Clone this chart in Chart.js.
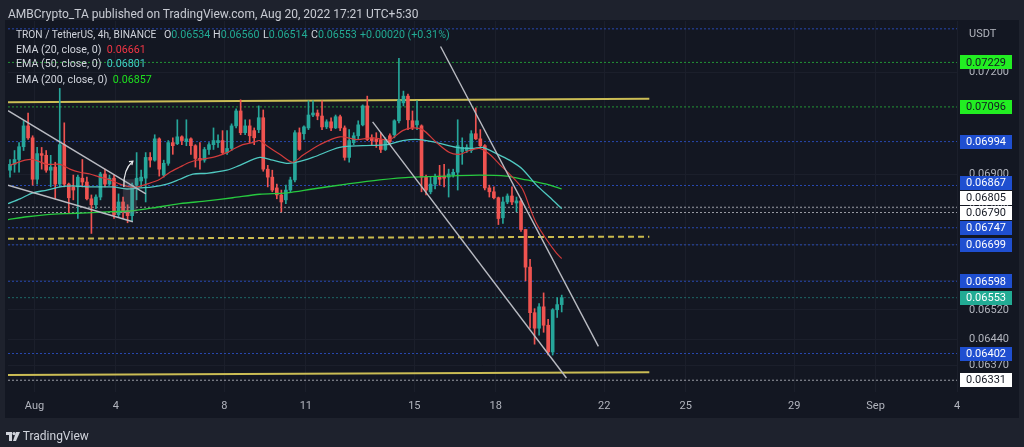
<!DOCTYPE html>
<html>
<head>
<meta charset="utf-8">
<script src="https://cdn.jsdelivr.net/npm/chart.js@4.4.0/dist/chart.umd.min.js"></script>
<style>
html,body{margin:0;padding:0;background:#1e222d;width:1024px;height:447px;overflow:hidden;font-family:Roboto,"Liberation Sans",sans-serif;}
#wrap{position:relative;width:1024px;height:447px;}
canvas{position:absolute;left:0;top:0;}
.t{position:absolute;white-space:nowrap;font-size:10.7px;line-height:14px;color:#d1d4dc;z-index:2;}
.teal{color:#22ab94;}
</style>
</head>
<body>
<div id="wrap">
<canvas id="c" width="1024" height="447"></canvas>
<div class="t" style="left:8px;top:7px;color:#c9ccd4;font-size:12px;">AMBCrypto_TA published on TradingView.com, Aug 20, 2022 17:21 UTC+5:30</div>
<div class="t" style="left:16px;top:28px;font-size:10.2px;">TRON / TetherUS, 4h, BINANCE</div>
<div class="t" style="left:164px;top:28px;">O<span class="teal">0.06534</span></div>
<div class="t" style="left:213px;top:28px;">H<span class="teal">0.06560</span></div>
<div class="t" style="left:263px;top:28px;">L<span class="teal">0.06514</span></div>
<div class="t" style="left:311px;top:28px;">C<span class="teal">0.06553</span></div>
<div class="t teal" style="left:360px;top:28px;">+0.00020 (+0.31%)</div>
<div class="t" style="left:16px;top:43px;">EMA (20, close, 0)&nbsp; <span style="color:#f23645">0.06661</span></div>
<div class="t" style="left:16px;top:57px;">EMA (50, close, 0)&nbsp; <span style="color:#3fd0c6">0.06801</span></div>
<div class="t" style="left:16px;top:73px;">EMA (200, close, 0)&nbsp; <span style="color:#1fe01f">0.06857</span></div>
<div class="t" style="left:969px;top:27px;color:#b2b5be;font-size:11px;">USDT</div>
<div class="t" style="left:6px;top:429px;color:#d1d4dc;font-size:12px;">
<svg width="14" height="9" viewBox="0 0 14 9" style="vertical-align:-1px"><path d="M0 0h6v9h-3V3H0z" fill="#d1d4dc"/><circle cx="8" cy="1.6" r="1.6" fill="#d1d4dc"/><path d="M10 0h4l-4 9h-3z" fill="#d1d4dc"/></svg> TradingView</div>
</div>
<script>
// ---------------- DATA ----------------
const opens = [0.06911,0.06928,0.06942,0.06979,0.07040,0.07005,0.06885,0.06959,0.06954,0.06911,
0.06920,0.06871,0.06985,0.06871,0.06863,0.06863,0.06888,0.06877,0.06829,0.06812,
0.06834,0.06900,0.06871,0.06888,0.06784,0.06820,0.06795,0.06781,0.06868,0.06880,
0.06888,0.06948,0.06940,0.07002,0.06897,0.06931,0.06991,0.06988,0.07008,0.06994,
0.07002,0.06982,0.06945,0.06940,0.06971,0.06985,0.06991,0.06997,0.06962,0.06974,
0.07040,0.07084,0.07020,0.07040,0.07026,0.07029,0.07064,0.06914,0.06891,0.06860,
0.06840,0.06826,0.06854,0.06883,0.07020,0.07017,0.07034,0.07072,0.07078,0.07069,
0.07037,0.07052,0.07034,0.07067,0.07034,0.06948,0.06991,0.07011,0.07043,0.07099,
0.07005,0.07002,0.07000,0.06971,0.07011,0.07014,0.07055,0.07108,0.07128,0.07055,
0.07043,0.07040,0.06891,0.06849,0.06871,0.06894,0.06894,0.06891,0.06897,0.06905,
0.06965,0.06968,0.06968,0.07017,0.07002,0.06982,0.06860,0.06849,0.06832,0.06775,
0.06820,0.06837,0.06817,0.06823,0.06742,0.06637,0.06512,0.06470,0.06528,0.06478,
0.06406,0.06520,0.06534];
const highs = [0.06942,0.06968,0.06991,0.07055,0.07078,0.07011,0.06977,0.06977,0.06968,0.06954,
0.06934,0.07151,0.07049,0.06874,0.06897,0.06897,0.06942,0.06891,0.06840,0.06840,
0.06905,0.06914,0.06897,0.06897,0.06843,0.06834,0.06812,0.06874,0.06962,0.06911,
0.06962,0.06962,0.07014,0.07005,0.06940,0.06997,0.07005,0.07058,0.07011,0.07058,
0.07005,0.06985,0.06991,0.06977,0.06991,0.07034,0.07014,0.07026,0.07026,0.07046,
0.07090,0.07117,0.07058,0.07058,0.07034,0.07099,0.07087,0.06925,0.06911,0.06871,
0.06854,0.06868,0.06891,0.07026,0.07034,0.07040,0.07114,0.07114,0.07087,0.07114,
0.07058,0.07064,0.07072,0.07072,0.07040,0.07029,0.07020,0.07055,0.07102,0.07128,
0.07014,0.07020,0.07020,0.07005,0.07017,0.07058,0.07241,0.07143,0.07134,0.07084,
0.07114,0.07043,0.06897,0.06891,0.06900,0.06925,0.06928,0.06914,0.06914,0.07058,
0.07005,0.06985,0.07026,0.07093,0.07029,0.06985,0.06868,0.06863,0.06834,0.06834,
0.06843,0.06863,0.06834,0.06829,0.06742,0.06659,0.06523,0.06537,0.06566,0.06494,
0.06523,0.06553,0.06560];
const lows = [0.06891,0.06905,0.06905,0.06968,0.07000,0.06868,0.06871,0.06914,0.06905,0.06863,
0.06829,0.06863,0.06863,0.06787,0.06826,0.06773,0.06863,0.06826,0.06731,0.06801,
0.06826,0.06863,0.06868,0.06773,0.06778,0.06773,0.06761,0.06764,0.06826,0.06863,
0.06820,0.06920,0.06937,0.06894,0.06891,0.06925,0.06957,0.06985,0.06985,0.06982,
0.06957,0.06920,0.06914,0.06934,0.06957,0.06971,0.06977,0.06957,0.06957,0.06968,
0.07034,0.07014,0.07014,0.06991,0.06985,0.07020,0.06908,0.06863,0.06849,0.06829,
0.06792,0.06815,0.06849,0.06877,0.06968,0.07000,0.07029,0.07067,0.07058,0.07029,
0.07032,0.07026,0.07032,0.07026,0.06940,0.06934,0.06985,0.07000,0.07040,0.06997,
0.06985,0.06977,0.06962,0.06968,0.06988,0.07005,0.07049,0.07099,0.07029,0.07029,
0.07029,0.06849,0.06840,0.06843,0.06857,0.06868,0.06863,0.06834,0.06891,0.06854,
0.06928,0.06962,0.06962,0.07000,0.06977,0.06854,0.06834,0.06829,0.06756,0.06759,
0.06815,0.06812,0.06792,0.06737,0.06599,0.06470,0.06427,0.06451,0.06459,0.06398,
0.06398,0.06499,0.06514];
const closes = [0.06928,0.06942,0.06979,0.07040,0.07005,0.06885,0.06959,0.06954,0.06911,0.06920,
0.06871,0.06985,0.06871,0.06832,0.06854,0.06891,0.06877,0.06829,0.06812,0.06834,
0.06900,0.06871,0.06888,0.06784,0.06820,0.06792,0.06781,0.06868,0.06888,0.06891,
0.06948,0.06940,0.07002,0.06914,0.06931,0.06991,0.06982,0.07008,0.06997,0.07002,
0.06982,0.06945,0.06940,0.06971,0.06985,0.06997,0.06997,0.06962,0.06974,0.07040,
0.07084,0.07020,0.07040,0.07011,0.07005,0.07064,0.06914,0.06891,0.06854,0.06840,
0.06820,0.06854,0.06883,0.07020,0.06971,0.07037,0.07072,0.07078,0.07069,0.07037,
0.07052,0.07034,0.07067,0.07034,0.06948,0.06997,0.07011,0.07043,0.07099,0.07000,
0.06997,0.06994,0.06971,0.07000,0.06994,0.07055,0.07117,0.07128,0.07058,0.07034,
0.07055,0.06891,0.06854,0.06871,0.06891,0.06885,0.06888,0.06900,0.06905,0.06982,
0.06977,0.06977,0.07017,0.07002,0.06982,0.06860,0.06849,0.06832,0.06773,0.06820,
0.06837,0.06820,0.06823,0.06742,0.06637,0.06512,0.06470,0.06528,0.06478,0.06406,
0.06520,0.06534,0.06553];

// EMA readings (day of August, price)
const ema20Days = [0.098,0.650,0.945,1.460,1.939,2.307,2.675,3.043,3.412,3.780,4.148,4.516,4.774,5.142,5.621,5.989,6.357,6.725,7.094,7.572,8.088,8.309,8.677,9.045,9.303,9.561,10.039,10.518,10.886,11.512,12.248,12.874,13.463,14.089,14.568,14.936,15.304,15.820,16.298,16.667,17.035,17.403,17.771,18.139,18.618,18.986,19.244,19.502,19.870,20.238,20.431];
const ema20Values = [0.06925,0.06940,0.06942,0.06928,0.06928,0.06914,0.06905,0.06900,0.06891,0.06883,0.06871,0.06863,0.06863,0.06871,0.06885,0.06905,0.06920,0.06934,0.06942,0.06948,0.06962,0.06971,0.06985,0.06991,0.06997,0.06982,0.06957,0.06934,0.06954,0.06985,0.07008,0.07000,0.07005,0.07000,0.07026,0.07034,0.07029,0.06991,0.06962,0.06957,0.06968,0.06974,0.06957,0.06928,0.06891,0.06857,0.06806,0.06759,0.06714,0.06676,0.06661];
const ema50Days = [0.024,0.466,0.945,1.460,1.939,2.418,2.933,3.412,3.890,4.406,4.884,5.363,5.879,6.357,6.836,7.351,8.088,8.566,9.303,9.782,10.297,10.665,11.254,12.248,13.095,13.979,14.568,15.194,15.820,16.556,17.145,17.513,18.029,18.507,18.986,19.502,19.981,20.431];
const ema50Values = [0.06815,0.06829,0.06846,0.06854,0.06863,0.06866,0.06863,0.06863,0.06863,0.06857,0.06860,0.06863,0.06871,0.06885,0.06900,0.06902,0.06911,0.06925,0.06948,0.06940,0.06931,0.06934,0.06948,0.06977,0.06982,0.06985,0.06997,0.07000,0.06991,0.06977,0.06974,0.06977,0.06959,0.06940,0.06914,0.06868,0.06834,0.06801];
const ema200Days = [0.024,0.724,1.460,2.197,2.933,3.669,4.627,5.363,6.357,7.351,8.309,9.303,10.297,11.254,12.506,13.721,14.936,16.188,17.403,18.397,19.133,19.870,20.431];
const ema200Values = [0.06770,0.06778,0.06784,0.06787,0.06789,0.06792,0.06795,0.06803,0.06815,0.06823,0.06832,0.06842,0.06846,0.06857,0.06871,0.06883,0.06891,0.06894,0.06897,0.06894,0.06883,0.06871,0.06857];

// Horizontal levels
const greenLevels = [0.07229, 0.07096];
const blueLevels = [0.06994, 0.06867, 0.06747, 0.06699, 0.06598, 0.06402];
const topBlueLevel = 0.07331;
const whiteLevels = [0.06805, 0.06790, 0.06331];
const lastPrice = 0.06553;

// Drawings: [startDay, endDay], [startPrice, endPrice]
const wedgeUpperDays = [0.024, 5.105],  wedgeUpperPrices = [0.07085, 0.06843];
const wedgeLowerDays = [0.024, 4.627],  wedgeLowerPrices = [0.06868, 0.06764];
const channelUpperDays = [15.967, 21.784], channelUpperPrices = [0.07277, 0.06421];
const channelLowerDays = [13.463, 20.606], channelLowerPrices = [0.07052, 0.06337];
const yellowDays = [0.024, 23.66];
const yellowTopPrices = [0.07110, 0.07120];
const yellowBottomPrices = [0.06345, 0.06352];
const yellowDashPrices = [0.06716, 0.06722];
const boxDays = [4.258, 4.773], boxPrices = [0.06885, 0.06787];
const arrowDays = [4.295, 4.277, 4.369, 4.627], arrowPrices = [0.06863, 0.06897, 0.06920, 0.06937];

// Axis ticks
const tickDays = [1, 4, 8, 11, 15, 18, 22, 25, 29, 32, 35];
const tickLabels = ['Aug', '4', '8', '11', '15', '18', '22', '25', '29', 'Sep', '4'];
const priceTicks = [0.07200, 0.06900, 0.06800, 0.06700, 0.06600, 0.06520, 0.06440, 0.06370];

const firstCandleDay = 0.098;      // Jul 31, first 4h candle
const candleStepDays = 4 / 24;
const X_MIN = 0.024, X_MAX = 35.0, Y_MIN = 0.06313, Y_MAX = 0.07355;

// ---------------- CHART ----------------
const UP = '#26a69a', DOWN = '#ef5350';
const candleDays = opens.map((_, i) => firstCandleDay + i * candleStepDays);
const isUp = i => closes[i] >= opens[i];

function seg(days, prices) { return days.map((d, i) => ({x: d, y: prices[i]})); }
function lineDs(data, color, width, dash, order, extra) {
  return Object.assign({type: 'line', data, borderColor: color, borderWidth: width, borderDash: dash || [],
    pointRadius: 0, fill: false, tension: 0, order}, extra || {});
}

const datasets = [];
greenLevels.forEach(v => datasets.push(lineDs(seg([X_MIN, X_MAX], [v, v]), 'rgba(40,190,60,0.75)', 1, [2, 2], 40)));
blueLevels.concat([topBlueLevel]).forEach(v => datasets.push(lineDs(seg([X_MIN, X_MAX], [v, v]), 'rgba(45,85,210,0.8)', 1, [2, 2], 40)));
whiteLevels.forEach(v => datasets.push(lineDs(seg([X_MIN, X_MAX], [v, v]), 'rgba(200,202,210,0.75)', 1, [2, 2], 40)));
datasets.push(lineDs(seg([X_MIN, X_MAX], [lastPrice, lastPrice]), 'rgba(38,166,154,0.55)', 1, [2, 2], 40));
datasets.push(lineDs(seg(yellowDays, yellowTopPrices), '#cbbd55', 2, [], 30));
datasets.push(lineDs(seg(yellowDays, yellowBottomPrices), '#cbbd55', 2, [], 30));
datasets.push(lineDs(seg(yellowDays, yellowDashPrices), '#c9b94c', 2, [6, 4], 30));
// candles
datasets.push({type: 'bar', data: candleDays.map((d, i) => ({x: d, y: [lows[i], highs[i]]})),
  backgroundColor: ctx => isUp(ctx.dataIndex) ? UP : DOWN, barThickness: 1, grouped: false, order: 21, borderWidth: 0});
datasets.push({type: 'bar', data: candleDays.map((d, i) => ({x: d, y: [opens[i], closes[i]]})),
  backgroundColor: ctx => isUp(ctx.dataIndex) ? UP : DOWN, barThickness: 3, grouped: false, order: 20, borderWidth: 0, minBarLength: 1});
// EMAs
datasets.push(lineDs(seg(ema200Days, ema200Values), '#27c93f', 1.3, [], 12, {tension: 0.3}));
datasets.push(lineDs(seg(ema50Days, ema50Values), '#4fc9c1', 1.3, [], 11, {tension: 0.3}));
datasets.push(lineDs(seg(ema20Days, ema20Values), '#d23b3b', 1.2, [], 10, {tension: 0.3}));
// trend lines
[[wedgeUpperDays, wedgeUpperPrices], [wedgeLowerDays, wedgeLowerPrices],
 [channelUpperDays, channelUpperPrices], [channelLowerDays, channelLowerPrices]]
  .forEach(([d, p]) => datasets.push(lineDs(seg(d, p), '#b9bbc2', 1.4, [], 5)));

const bgPlugin = {
  id: 'bg',
  beforeDraw(chart) {
    const c = chart.ctx;
    c.save();
    c.fillStyle = '#131722';
    c.fillRect(5, 20, 1014, 398);
    c.restore();
  },
  afterDatasetsDraw(chart) {
    const c = chart.ctx, xs = chart.scales.x, ys = chart.scales.y;
    c.save();
    const bx0 = xs.getPixelForValue(boxDays[0]), bx1 = xs.getPixelForValue(boxDays[1]);
    const by0 = ys.getPixelForValue(boxPrices[0]), by1 = ys.getPixelForValue(boxPrices[1]);
    c.fillStyle = 'rgba(140,143,155,0.22)';
    c.fillRect(bx0, by0, bx1 - bx0, by1 - by0);
    const pts = arrowDays.map((d, i) => [xs.getPixelForValue(d), ys.getPixelForValue(arrowPrices[i])]);
    c.strokeStyle = '#e6e7ea'; c.lineWidth = 1.2;
    c.beginPath(); c.moveTo(pts[0][0], pts[0][1]);
    c.bezierCurveTo(pts[1][0], pts[1][1], pts[2][0], pts[2][1], pts[3][0], pts[3][1]);
    c.stroke();
    const ang = Math.atan2(pts[3][1] - pts[2][1], pts[3][0] - pts[2][0]);
    c.beginPath();
    c.moveTo(pts[3][0] - 4 * Math.cos(ang - 0.6), pts[3][1] - 4 * Math.sin(ang - 0.6));
    c.lineTo(pts[3][0], pts[3][1]);
    c.lineTo(pts[3][0] - 4 * Math.cos(ang + 0.6), pts[3][1] - 4 * Math.sin(ang + 0.6));
    c.stroke();
    c.restore();
  },
  afterDraw(chart) {
    const c = chart.ctx, ys = chart.scales.y;
    const badges = [];
    greenLevels.forEach(v => badges.push({v, bg: '#22ee22', fg: '#131722'}));
    blueLevels.forEach(v => badges.push({v, bg: '#1f4fd0', fg: '#ffffff'}));
    whiteLevels.forEach(v => badges.push({v, bg: '#ffffff', fg: '#131722'}));
    badges.push({v: lastPrice, bg: '#22ab94', fg: '#ffffff'});
    badges.forEach(b => b.y = ys.getPixelForValue(b.v));
    badges.sort((a, b) => b.y - a.y);
    for (let i = 1; i < badges.length; i++) {
      if (badges[i].y > badges[i - 1].y - 15) badges[i].y = badges[i - 1].y - 15;
    }
    c.save();
    c.font = '11px Roboto, "Liberation Sans", sans-serif';
    c.textAlign = 'center'; c.textBaseline = 'middle';
    badges.forEach(b => {
      c.fillStyle = b.bg;
      c.fillRect(960, Math.round(b.y - 7), 52, 14);
      c.fillStyle = b.fg;
      c.fillText(b.v.toFixed(5), 986, b.y + 0.5);
    });
    c.restore();
  }
};

new Chart(document.getElementById('c'), {
  data: {datasets},
  options: {
    responsive: false, animation: false, devicePixelRatio: 1,
    layout: {padding: {left: 8, top: 21, right: 6, bottom: 29}},
    plugins: {legend: {display: false}, tooltip: {enabled: false}},
    scales: {
      x: {
        type: 'linear', min: X_MIN, max: X_MAX, position: 'bottom', offset: false,
        grid: {color: '#1b1f2b', drawTicks: false, offset: false}, border: {display: false},
        afterBuildTicks: s => { s.ticks = tickDays.map(v => ({value: v})); },
        afterFit: s => { s.height = 26; },
        ticks: {autoSkip: false, maxRotation: 0, padding: 8, color: '#b2b5be',
          font: {size: 11, family: 'Roboto'}, callback: v => tickLabels[tickDays.indexOf(v)]}
      },
      y: {
        type: 'logarithmic', position: 'right', min: Y_MIN, max: Y_MAX,
        grid: {color: '#1b1f2b', drawTicks: false}, border: {display: false},
        afterBuildTicks: s => { s.ticks = priceTicks.map(v => ({value: v})); },
        afterFit: s => { s.width = 61; },
        ticks: {padding: 12, color: '#b2b5be', font: {size: 11, family: 'Roboto'},
          callback: v => Number(v).toFixed(5)}
      }
    }
  },
  plugins: [bgPlugin]
});
</script>
</body>
</html>
